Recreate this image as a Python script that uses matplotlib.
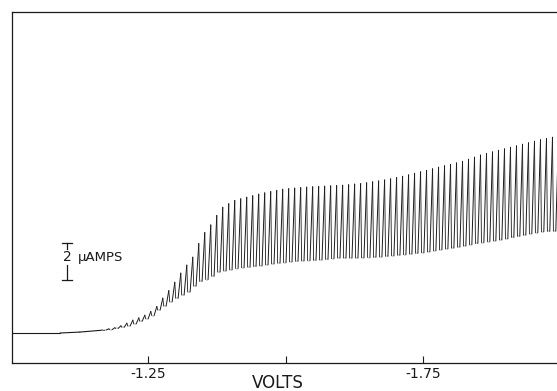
"""
Polarogram redraw: dropping mercury electrode current vs applied potential.
"""

import matplotlib

matplotlib.use("Agg")
import matplotlib.pyplot as plt
import numpy as np
from matplotlib.collections import LineCollection

# residual current before the wave (volts, microamps)
baseline_volts = [-1.0, -1.09, -1.126, -1.163]
baseline_uamps = [1.58, 1.58, 1.63, 1.72]

# drop-by-drop current, one entry per mercury drop
drop_start_volts = -1.163
drop_step_volts = -0.0109
drop_max_uamps = [
    1.74, 1.80, 1.86, 1.96, 2.10, 2.26, 2.38, 2.52, 2.72, 2.98,
    3.42, 3.82, 4.26, 4.74, 5.16, 5.58, 6.30, 6.88, 7.28, 7.78,
    8.21, 8.40, 8.57, 8.66, 8.74, 8.82, 8.90, 8.97, 9.04, 9.10,
    9.16, 9.19, 9.22, 9.25, 9.27, 9.29, 9.31, 9.32, 9.34, 9.36,
    9.37, 9.40, 9.43, 9.46, 9.50, 9.55, 9.60, 9.65, 9.71, 9.78,
    9.84, 9.92, 10.00, 10.08, 10.15, 10.24, 10.32, 10.40, 10.47, 10.55,
    10.63, 10.74, 10.85, 10.96, 11.05, 11.13, 11.21, 11.29, 11.37, 11.45,
    11.53, 11.61, 11.69, 11.77, 11.84, 11.90, 11.95,
]
drop_min_uamps = [
    1.72, 1.74, 1.76, 1.82, 1.88, 1.95, 2.06, 2.20, 2.33, 2.50,
    2.79, 3.00, 3.22, 3.41, 3.58, 3.74, 4.05, 4.30, 4.40, 4.57,
    4.79, 4.85, 4.91, 4.98, 5.02, 5.05, 5.09, 5.12, 5.17, 5.22,
    5.26, 5.29, 5.33, 5.36, 5.38, 5.40, 5.41, 5.43, 5.46, 5.50,
    5.53, 5.53, 5.53, 5.53, 5.54, 5.56, 5.57, 5.59, 5.62, 5.65,
    5.68, 5.71, 5.74, 5.78, 5.81, 5.86, 5.92, 5.97, 6.02, 6.06,
    6.11, 6.17, 6.24, 6.30, 6.35, 6.40, 6.44, 6.49, 6.55, 6.62,
    6.68, 6.74, 6.81, 6.87, 6.92, 6.94, 6.95,
]

tick_volts = [-1.25, -1.50, -1.75]
tick_labels = ["-1.25", "", "-1.75"]

# scale bar for the current axis
bar_volts = -1.1027
bar_low_uamps = 4.35
bar_high_uamps = 6.35

ink = "#1a1a1a"

# pen trace: rise while the drop grows, fast fall, then a faint run
# along the bottom until the next drop starts
n_drops = len(drop_max_uamps)
drop_volts = drop_start_volts + drop_step_volts * np.arange(n_drops)
strokes, widths = [], []
base_pts = list(zip(baseline_volts, baseline_uamps))
for a, b in zip(base_pts[:-1], base_pts[1:]):
    strokes.append([a, b])
    widths.append(0.8)
for k in range(n_drops):
    lo_next = drop_min_uamps[min(k + 1, n_drops - 1)]
    v0 = drop_volts[k]
    p_lo = (v0, drop_min_uamps[k])
    p_hi = (v0 + 0.45 * drop_step_volts, drop_max_uamps[k])
    p_fall = (v0 + 0.6 * drop_step_volts, lo_next)
    p_next = (v0 + drop_step_volts, lo_next)
    strokes += [[p_lo, p_hi], [p_hi, p_fall], [p_fall, p_next]]
    widths += [0.7, 0.6, 0.25]

fig = plt.figure(figsize=(5.57, 3.91), dpi=100)
ax = fig.add_axes([12 / 557, 28 / 391, 1 - 12 / 557, 351 / 391])

ax.add_collection(LineCollection(strokes, linewidths=widths, colors=ink,
                                 capstyle="round"))

# 2 uA scale bar with the "2" sitting in a gap
cap = 0.0091
ax.plot([bar_volts, bar_volts], [bar_low_uamps, 5.15], color=ink, lw=0.9)
ax.plot([bar_volts, bar_volts], [6.0, bar_high_uamps], color=ink, lw=0.9)
ax.plot([bar_volts - cap, bar_volts + cap], [bar_low_uamps] * 2, color=ink, lw=0.9)
ax.plot([bar_volts - cap, bar_volts + cap], [bar_high_uamps] * 2, color=ink, lw=0.9)
ax.text(bar_volts, 5.58, "2", ha="center", va="center", fontsize=10, color=ink)
ax.text(-1.1227, 5.58, "μAMPS", ha="left", va="center", fontsize=9.5, color=ink)

ax.set_xlim(-1.0027, -1.9936)
ax.set_ylim(0, 18.5)

ax.set_xticks(tick_volts)
ax.set_xticklabels(tick_labels)
ax.tick_params(axis="x", direction="in", length=5, width=0.8, pad=3,
               labelsize=10, colors=ink)
ax.set_yticks([])

for side in ["left", "top", "bottom"]:
    ax.spines[side].set_color(ink)
    ax.spines[side].set_linewidth(0.9)
ax.spines["right"].set_visible(False)

fig.text(278 / 557, 7.5 / 391, "VOLTS", ha="center", va="center",
         fontsize=12, color=ink)

fig.savefig("out.png", dpi=100)
